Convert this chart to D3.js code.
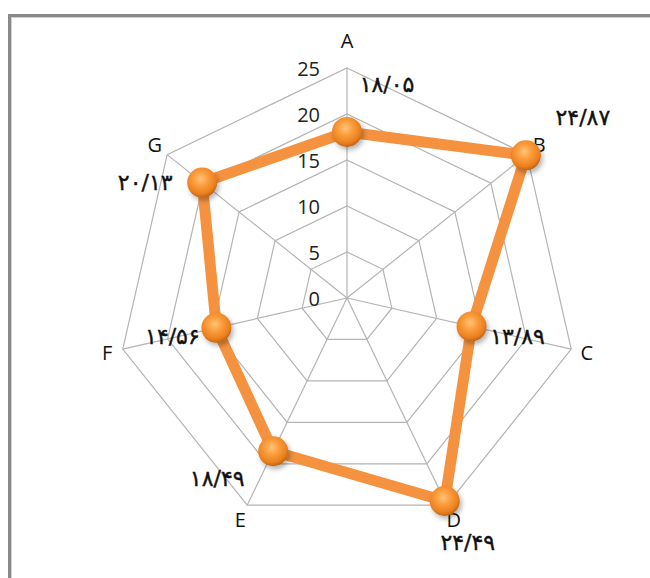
<!DOCTYPE html>
<html>
<head>
<meta charset="utf-8">
<script src="https://cdn.jsdelivr.net/npm/d3@7"></script>
<style>
  html, body { margin: 0; padding: 0; background: #fff; }
  svg { display: block; }
</style>
</head>
<body>
<svg id="chart" width="650" height="578"></svg>
<script>
// ---- data ----
const categories = ["A", "B", "C", "D", "E", "F", "G"];
const values = [18.05, 24.87, 13.89, 24.49, 18.49, 14.56, 20.13];
const valueLabels = ["۱۸/۰۵", "۲۴/۸۷", "۱۳/۸۹", "۲۴/۴۹", "۱۸/۴۹", "۱۴/۵۶", "۲۰/۱۳"];
const tickValues = [0, 5, 10, 15, 20, 25];

// ---- layout constants ----
const cx = 347, cy = 298, R = 230;
// manual nudges of value labels relative to their point (layout, not data)
const labelNudge = [[40, -47], [57, -38], [46, 10], [23, 42], [-56, 27], [-44, 9], [-57, 0]];

const svg = d3.select("#chart");

// frame
svg.append("path")
  .attr("d", "M9.5,578 L9.5,15.5 L650,15.5")
  .attr("fill", "none").attr("stroke", "#8a8a8a").attr("stroke-width", 3);
svg.append("path")
  .attr("d", "M11.5,578 L11.5,17.5 L650,17.5")
  .attr("fill", "none").attr("stroke", "#d0d0d0").attr("stroke-width", 1);

const r = d3.scaleLinear().domain([0, 25]).range([0, R]);
const angle = d3.scalePoint().domain(categories).range([0, 2 * Math.PI * (categories.length - 1) / categories.length]);

function pt(cat, v) {
  const a = angle(cat);
  return [cx + r(v) * Math.sin(a), cy - r(v) * Math.cos(a)];
}

const g = svg.append("g");

// grid rings
tickValues.filter(t => t > 0).forEach(t => {
  g.append("path")
    .attr("d", d3.line()(categories.map(c => pt(c, t))) + "Z")
    .attr("fill", "none").attr("stroke", "#b4b4b4").attr("stroke-width", 1.2);
});
// spokes
categories.forEach(c => {
  const p = pt(c, 25);
  g.append("line").attr("x1", cx).attr("y1", cy).attr("x2", p[0]).attr("y2", p[1])
    .attr("stroke", "#b4b4b4").attr("stroke-width", 1.2);
});

// tick labels
tickValues.forEach(t => {
  g.append("text")
    .attr("x", cx - 27).attr("y", cy - r(t))
    .attr("text-anchor", "end").attr("dominant-baseline", "central")
    .attr("font-family", "Open Sans, Liberation Sans, sans-serif")
    .attr("font-size", 20).attr("fill", "#222")
    .text(t);
});

// category labels
categories.forEach((c, i) => {
  const a = angle(c);
  const lr = R + 16 + (i === 0 ? 12 : 0);
  g.append("text")
    .attr("x", cx + lr * Math.sin(a)).attr("y", cy - lr * Math.cos(a))
    .attr("text-anchor", "middle").attr("dominant-baseline", "central")
    .attr("font-family", "Open Sans, Liberation Sans, sans-serif")
    .attr("font-size", 20).attr("fill", "#111")
    .text(c);
});

// defs: gradient and shadow
const defs = svg.append("defs");
const grad = defs.append("radialGradient").attr("id", "ball")
  .attr("cx", "45%").attr("cy", "38%").attr("r", "62%");
grad.append("stop").attr("offset", "0%").attr("stop-color", "#ffc47a");
grad.append("stop").attr("offset", "40%").attr("stop-color", "#fb9c3c");
grad.append("stop").attr("offset", "80%").attr("stop-color", "#ea8020");
grad.append("stop").attr("offset", "100%").attr("stop-color", "#bf6412");
const f = defs.append("filter").attr("id", "shadow").attr("x", "-50%").attr("y", "-50%").attr("width", "200%").attr("height", "200%");
f.append("feDropShadow").attr("dx", 2).attr("dy", 3).attr("stdDeviation", 2.5).attr("flood-color", "#000").attr("flood-opacity", 0.3);

// series line
const pts = categories.map((c, i) => pt(c, values[i]));
g.append("path")
  .attr("d", d3.line()(pts) + "Z")
  .attr("fill", "none").attr("stroke", "#f59240").attr("stroke-width", 11)
  .attr("stroke-linejoin", "miter");

// markers
g.selectAll("circle.m").data(pts).join("circle")
  .attr("class", "m")
  .attr("cx", d => d[0]).attr("cy", d => d[1]).attr("r", 15)
  .attr("fill", "url(#ball)").attr("filter", "url(#shadow)");

// value labels
valueLabels.forEach((t, i) => {
  const p = pts[i];
  g.append("text")
    .attr("x", p[0] + labelNudge[i][0]).attr("y", p[1] + labelNudge[i][1])
    .attr("text-anchor", "middle").attr("dominant-baseline", "central")
    .attr("font-family", "DejaVu Sans, sans-serif")
    .attr("font-size", 22).attr("letter-spacing", 1).attr("fill", "#111")
    .attr("stroke", "#111").attr("stroke-width", 0.4)
    .text(t);
});
</script>
</body>
</html>
